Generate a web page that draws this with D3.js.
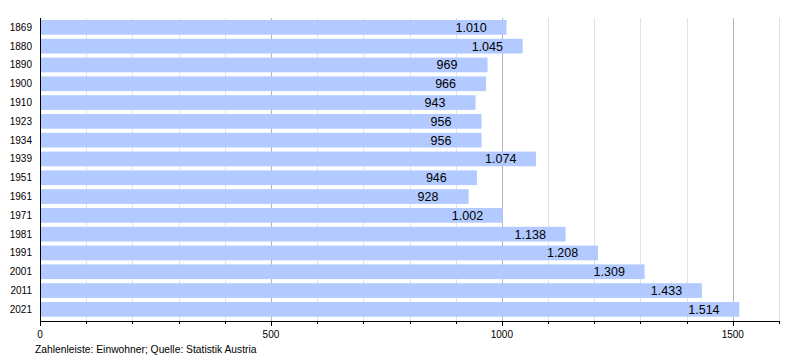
<!DOCTYPE html>
<html><head><meta charset="utf-8">
<script src="https://cdn.jsdelivr.net/npm/d3@7"></script>
<style>body{margin:0;background:#fff}svg{display:block;font-family:"Liberation Sans",Arial,sans-serif}</style>
</head><body><svg id="c" width="800" height="360"></svg>
<script>
const years = ["1869","1880","1890","1900","1910","1923","1934","1939","1951","1961","1971","1981","1991","2001","2011","2021"];
const population = [1010,1045,969,966,943,956,956,1074,946,928,1002,1138,1208,1309,1433,1514];
const xTicks = [0,500,1000,1500];
const footer = "Zahlenleiste: Einwohner; Quelle: Statistik Austria";

(function(){
const svg = d3.select("#c");
const x = d3.scaleLinear().domain([0,1600]).range([40,779]);
const y = d3.scaleBand().domain(years).range([17.95,318.75]).paddingInner(0.218).paddingOuter(0.109);
const plotTop = 18, plotBottom = 321;
const de = d3.formatLocale({decimal:",", thousands:".", grouping:[3], currency:["","€"]});
const fmt = de.format(",d");

// grid
const gridVals = d3.range(100,1601,100);
svg.append("g").selectAll("line").data(gridVals).join("line")
  .attr("x1",d=>Math.round(x(d))+0.5).attr("x2",d=>Math.round(x(d))+0.5)
  .attr("y1",plotTop).attr("y2",plotBottom)
  .attr("stroke",d=>d%500===0?"#b4b4b4":"#e2e2e2").attr("stroke-width",1);

// bars
svg.append("g").selectAll("rect").data(years).join("rect")
  .attr("x",x(0)).attr("y",d=>y(d))
  .attr("width",(d,i)=>x(population[i])-x(0)).attr("height",y.bandwidth())
  .attr("fill","#b2caff");

// value labels
svg.append("g").selectAll("text").data(years).join("text")
  .attr("x",(d,i)=>x(population[i])-51).attr("y",d=>y(d)+y.bandwidth()/2)
  .attr("dy","0.36em").attr("font-size",12.5).attr("fill","#000")
  .text((d,i)=>fmt(population[i]));

// y labels
svg.append("g").selectAll("text").data(years).join("text")
  .attr("x",32).attr("y",d=>y(d)+y.bandwidth()/2).attr("dy","0.35em")
  .attr("text-anchor","end").attr("font-size",10).text(d=>d);

// axes lines
svg.append("line").attr("x1",40.5).attr("x2",40.5).attr("y1",plotTop).attr("y2",plotBottom+0.5).attr("stroke","#000");
svg.append("line").attr("x1",40).attr("x2",780).attr("y1",plotBottom+0.5).attr("y2",plotBottom+0.5).attr("stroke","#000");
const tickVals = d3.range(0,1601,100);
svg.append("g").selectAll("line").data(tickVals).join("line")
  .attr("x1",d=>Math.round(x(d))+0.5).attr("x2",d=>Math.round(x(d))+0.5)
  .attr("y1",plotBottom).attr("y2",d=>d%500===0?plotBottom+5:plotBottom+3).attr("stroke","#000");
svg.append("g").selectAll("text").data(xTicks).join("text")
  .attr("x",d=>x(d)).attr("y",338).attr("text-anchor","middle").attr("font-size",10)
  .text(d=>d);

svg.append("text").attr("x",35).attr("y",353).attr("font-size",10.3).text(footer);
})();
</script></body></html>
